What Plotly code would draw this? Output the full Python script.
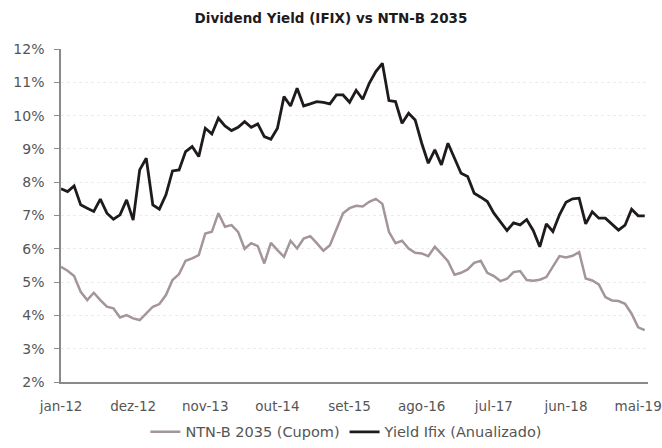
import plotly.graph_objects as go

# Monthly series, jan-12 .. jun-19 (values in %)
months = list(range(90))
tick_idx = [0, 11, 22, 33, 44, 55, 66, 77, 88]
tick_labels = ["jan-12", "dez-12", "nov-13", "out-14", "set-15", "ago-16", "jul-17", "jun-18", "mai-19"]

ntnb_2035 = [5.46, 5.34, 5.18, 4.71, 4.46, 4.68, 4.46, 4.26, 4.21, 3.94,
             4.01, 3.91, 3.86, 4.06, 4.26, 4.34, 4.61, 5.06, 5.24, 5.64,
             5.71, 5.81, 6.46, 6.51, 7.07, 6.66, 6.71, 6.51, 6.00, 6.17,
             6.08, 5.56, 6.18, 5.96, 5.76, 6.24, 6.01, 6.31, 6.38, 6.17,
             5.94, 6.11, 6.62, 7.07, 7.22, 7.29, 7.27, 7.41, 7.50, 7.35,
             6.51, 6.17, 6.24, 6.01, 5.88, 5.86, 5.78, 6.06, 5.85, 5.63,
             5.22, 5.28, 5.38, 5.58, 5.64, 5.28, 5.18, 5.03, 5.10, 5.30,
             5.33, 5.06, 5.04, 5.07, 5.15, 5.46, 5.78, 5.74, 5.79, 5.90,
             5.11, 5.05, 4.93, 4.55, 4.45, 4.43, 4.35, 4.05, 3.64, 3.56]

yield_ifix = [7.80, 7.72, 7.89, 7.32, 7.22, 7.12, 7.49, 7.07, 6.89, 7.02,
              7.47, 6.86, 8.37, 8.72, 7.32, 7.19, 7.62, 8.34, 8.37, 8.92,
              9.07, 8.77, 9.62, 9.45, 9.92, 9.69, 9.55, 9.65, 9.82, 9.65,
              9.75, 9.37, 9.29, 9.62, 10.57, 10.29, 10.82, 10.29, 10.35, 10.42,
              10.40, 10.35, 10.62, 10.62, 10.40, 10.76, 10.49, 10.97, 11.32, 11.57,
              10.45, 10.42, 9.77, 10.07, 9.87, 9.17, 8.57, 8.97, 8.52, 9.17,
              8.72, 8.27, 8.17, 7.67, 7.55, 7.42, 7.07, 6.82, 6.55, 6.78,
              6.72, 6.88, 6.55, 6.06, 6.75, 6.52, 7.02, 7.40, 7.50, 7.52,
              6.75, 7.11, 6.92, 6.92, 6.75, 6.56, 6.71, 7.19, 6.99, 6.99]

font_name = "DejaVu Sans"

fig = go.Figure()
fig.add_trace(go.Scatter(x=months, y=ntnb_2035, mode="lines", name="NTN-B 2035 (Cupom)",
                         line=dict(color="#a3959a", width=2.5)))
fig.add_trace(go.Scatter(x=months, y=yield_ifix, mode="lines", name="Yield Ifix (Anualizado)",
                         line=dict(color="#1f1a1c", width=2.8)))

fig.update_xaxes(range=[0, 89.5], tickmode="array", tickvals=tick_idx, ticktext=tick_labels,
                 showgrid=False, zeroline=False, showline=True, linecolor="#8a8a8a", linewidth=1.5,
                 ticks="", ticklabelstandoff=11, ticklabeloverflow="allow", automargin=False,
                 tickfont=dict(family=font_name, size=13.5, color="#555555"))
fig.update_yaxes(range=[2, 12], dtick=1, ticksuffix="%", showgrid=True, gridcolor="#ececec",
                 griddash="dot", zeroline=False, showline=True, linecolor="#8a8a8a", linewidth=1.5,
                 ticks="outside", ticklen=5, tickcolor="#8a8a8a", ticklabelstandoff=7,
                 automargin=False, tickfont=dict(family=font_name, size=14, color="#555555"))

# legend placed in container coordinates so it does not push the bottom margin
fig.update_layout(width=662, height=448, plot_bgcolor="#FFFFFF", paper_bgcolor="#FFFFFF",
                  margin=dict(l=61, r=14, t=49, b=66),
                  title=dict(text="<b>Dividend Yield (IFIX) vs NTN-B 2035</b>", x=0.5, xanchor="center",
                             y=0.96, yanchor="middle", automargin=False,
                             font=dict(family=font_name, size=13.5, color="#1f1a1c")),
                  legend=dict(orientation="h", xref="container", yref="container",
                              x=0.524, xanchor="center", y=0.036, yanchor="middle",
                              font=dict(family=font_name, size=14.5, color="#555555"),
                              itemwidth=30, tracegroupgap=0),
                  showlegend=True)

# drop the browser's default body margin so the figure sits at the page origin
fig.write_html("out.html", config={"displayModeBar": False},
               post_script="document.body.style.margin='0';")
